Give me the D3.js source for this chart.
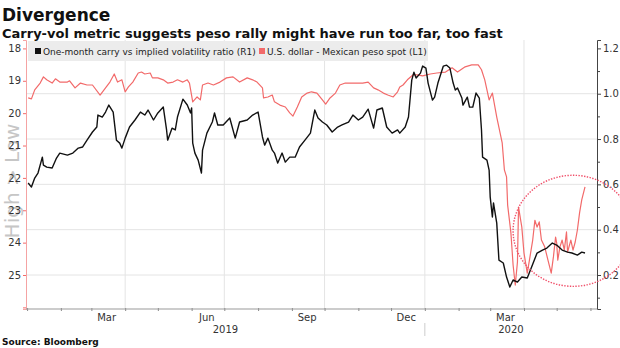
<!DOCTYPE html>
<html>
<head>
<meta charset="utf-8">
<script src="https://cdn.jsdelivr.net/npm/d3@7"></script>
<style>
  body { margin: 0; background: #fff; }
  svg { display: block; font-family: "DejaVu Sans", Verdana, sans-serif; }
</style>
</head>
<body>
<svg id="chart" width="620" height="348"></svg>
<script>
// one-month carry / implied vol ratio (right axis)
const carryRatio = [
  ["2019-01-02",0.606],["2019-01-05",0.588],["2019-01-08",0.628],["2019-01-11",0.650],["2019-01-15",0.720],
  ["2019-01-16",0.685],["2019-01-19",0.676],["2019-01-24",0.672],["2019-01-28",0.716],["2019-01-31",0.738],
  ["2019-02-07",0.729],["2019-02-12",0.738],["2019-02-17",0.760],["2019-02-21",0.765],["2019-02-25",0.795],
  ["2019-03-02",0.831],["2019-03-06",0.853],["2019-03-07",0.906],["2019-03-11",0.897],["2019-03-14",0.919],
  ["2019-03-17",0.950],["2019-03-21",0.919],["2019-03-24",0.795],["2019-03-27",0.782],["2019-03-29",0.760],
  ["2019-04-01",0.804],["2019-04-05",0.853],["2019-04-10",0.884],["2019-04-15",0.919],["2019-04-19",0.906],
  ["2019-04-22",0.928],["2019-04-27",0.884],["2019-05-01",0.915],["2019-05-06",0.941],["2019-05-09",0.840],
  ["2019-05-10",0.795],["2019-05-14",0.848],["2019-05-17",0.840],["2019-05-19",0.897],["2019-05-24",0.976],
  ["2019-05-28",0.950],["2019-05-31",0.915],["2019-06-01",0.937],["2019-06-02",0.782],["2019-06-04",0.738],
  ["2019-06-07",0.707],["2019-06-10",0.650],["2019-06-11",0.751],["2019-06-15",0.826],["2019-06-20",0.875],
  ["2019-06-22",0.915],["2019-06-25",0.862],["2019-06-30",0.862],["2019-07-06",0.893],["2019-07-11",0.804],
  ["2019-07-15",0.875],["2019-07-22",0.884],["2019-07-27",0.906],["2019-08-01",0.919],["2019-08-05",0.809],
  ["2019-08-07",0.773],["2019-08-10",0.804],["2019-08-14",0.751],["2019-08-16",0.738],["2019-08-19",0.694],
  ["2019-08-23",0.738],["2019-08-26",0.698],["2019-08-30",0.720],["2019-09-04",0.720],["2019-09-08",0.765],
  ["2019-09-13",0.795],["2019-09-18",0.826],["2019-09-22",0.928],["2019-09-25",0.893],["2019-09-29",0.875],
  ["2019-10-03",0.862],["2019-10-08",0.831],["2019-10-13",0.853],["2019-10-17",0.862],["2019-10-23",0.875],
  ["2019-10-27",0.906],["2019-11-01",0.884],["2019-11-05",0.897],["2019-11-10",0.932],["2019-11-15",0.848],
  ["2019-11-18",0.928],["2019-11-23",0.937],["2019-11-27",0.853],["2019-12-02",0.826],["2019-12-07",0.840],
  ["2019-12-09",0.826],["2019-12-14",0.853],["2019-12-17",0.897],["2019-12-20",1.060],["2019-12-22",1.095],
  ["2019-12-24",1.069],["2019-12-28",1.091],["2019-12-30",1.122],["2020-01-02",1.113],["2020-01-04",1.047],
  ["2020-01-08",0.972],["2020-01-10",0.985],["2020-01-13",1.047],["2020-01-18",1.122],["2020-01-21",1.126],
  ["2020-01-24",1.113],["2020-01-27",1.047],["2020-01-29",1.016],["2020-01-31",1.025],["2020-02-04",0.981],
  ["2020-02-05",0.950],["2020-02-09",0.985],["2020-02-11",0.941],["2020-02-14",0.941],["2020-02-17",1.003],
  ["2020-02-20",0.981],["2020-02-22",0.840],["2020-02-23",0.720],["2020-02-27",0.707],["2020-02-29",0.663],
  ["2020-03-01",0.544],["2020-03-03",0.456],["2020-03-04",0.518],["2020-03-07",0.429],["2020-03-09",0.266],
  ["2020-03-13",0.253],["2020-03-16",0.191],["2020-03-19",0.147],["2020-03-22",0.178],["2020-03-26",0.169],
  ["2020-03-30",0.191],["2020-04-04",0.187],["2020-04-08",0.235],["2020-04-13",0.297],["2020-04-18",0.310],
  ["2020-04-22",0.319],["2020-04-27",0.341],["2020-05-01",0.332],["2020-05-06",0.310],["2020-05-11",0.301],
  ["2020-05-15",0.297],["2020-05-20",0.288],["2020-05-24",0.301],["2020-05-27",0.297]
];

// USD/MXN spot (left axis, inverted)
const pesoSpot = [
  ["2019-01-02",19.53],["2019-01-05",19.56],["2019-01-08",19.28],["2019-01-13",19.07],["2019-01-16",18.88],
  ["2019-01-19",18.97],["2019-01-24",19.07],["2019-01-27",18.94],["2019-01-31",19.04],["2019-02-07",19.04],
  ["2019-02-09",19.00],["2019-02-14",19.22],["2019-02-19",19.07],["2019-02-25",19.13],["2019-03-02",19.13],
  ["2019-03-09",19.44],["2019-03-14",19.22],["2019-03-18",19.04],["2019-03-22",18.79],["2019-03-25",19.04],
  ["2019-03-29",18.97],["2019-04-01",19.34],["2019-04-04",19.19],["2019-04-08",19.04],["2019-04-13",18.76],
  ["2019-04-16",18.73],["2019-04-19",18.79],["2019-04-24",18.76],["2019-04-26",18.91],["2019-05-01",18.91],
  ["2019-05-06",18.97],["2019-05-10",19.07],["2019-05-15",19.04],["2019-05-19",18.97],["2019-05-24",19.04],
  ["2019-05-28",18.97],["2019-05-30",19.07],["2019-06-02",19.65],["2019-06-06",19.50],["2019-06-09",19.59],
  ["2019-06-11",19.13],["2019-06-16",19.07],["2019-06-21",19.13],["2019-06-27",19.04],["2019-07-03",18.91],
  ["2019-07-09",18.88],["2019-07-15",19.04],["2019-07-22",18.91],["2019-07-27",18.97],["2019-07-31",19.04],
  ["2019-08-05",19.22],["2019-08-06",19.53],["2019-08-10",19.50],["2019-08-14",19.44],["2019-08-16",19.65],
  ["2019-08-21",19.75],["2019-08-26",19.81],["2019-08-30",19.99],["2019-09-02",20.09],["2019-09-06",19.81],
  ["2019-09-10",19.50],["2019-09-15",19.38],["2019-09-19",19.34],["2019-09-24",19.38],["2019-09-29",19.59],
  ["2019-10-02",19.72],["2019-10-06",19.53],["2019-10-11",19.38],["2019-10-15",19.13],["2019-10-20",19.07],
  ["2019-10-24",19.07],["2019-10-31",19.07],["2019-11-05",19.07],["2019-11-10",19.04],["2019-11-15",19.22],
  ["2019-11-19",19.28],["2019-11-24",19.38],["2019-11-28",19.44],["2019-12-03",19.50],["2019-12-07",19.34],
  ["2019-12-09",19.19],["2019-12-12",19.13],["2019-12-16",18.97],["2019-12-21",18.82],["2019-12-25",18.82],
  ["2019-12-30",18.85],["2020-01-06",18.79],["2020-01-12",18.76],["2020-01-20",18.73],["2020-01-26",18.60],
  ["2020-01-31",18.73],["2020-02-07",18.57],["2020-02-13",18.51],["2020-02-19",18.51],["2020-02-22",18.66],
  ["2020-02-25",18.97],["2020-02-29",19.59],["2020-03-03",19.38],["2020-03-07",20.12],["2020-03-12",20.92],
  ["2020-03-14",21.75],["2020-03-16",21.97],["2020-03-17",22.84],["2020-03-20",23.70],["2020-03-22",24.69],
  ["2020-03-24",25.31],["2020-03-26",24.60],["2020-03-27",22.90],["2020-03-30",23.52],["2020-04-01",24.32],
  ["2020-04-04",24.94],["2020-04-06",24.54],["2020-04-09",23.92],["2020-04-11",23.31],["2020-04-13",23.52],
  ["2020-04-15",23.36],["2020-04-17",23.92],["2020-04-20",24.13],["2020-04-23",24.54],["2020-04-26",24.94],
  ["2020-04-28",24.44],["2020-04-30",23.83],["2020-05-01",24.01],["2020-05-02",24.54],["2020-05-04",24.13],
  ["2020-05-06",23.92],["2020-05-08",24.23],["2020-05-10",23.67],["2020-05-11",24.29],["2020-05-14",23.92],
  ["2020-05-16",24.23],["2020-05-18",23.98],["2020-05-20",23.61],["2020-05-22",23.08],["2020-05-24",22.68],
  ["2020-05-27",22.28]
];

const leftTicks = [18, 19, 20, 21, 22, 23, 24, 25, 26];
const rightTicks = [0.2, 0.4, 0.6, 0.8, 1.0, 1.2];
const rightMinor = [0.1, 0.3, 0.5, 0.7, 0.9, 1.1];
const monthLabels = ["2019-03-15", "2019-06-15", "2019-09-15", "2019-12-15", "2020-03-15"];
const quarterLines = ["2019-04-01", "2019-07-01", "2019-10-01", "2020-01-01", "2020-04-01"];
const years = [2019, 2020];
const legendItems = [
  { label: "One-month carry vs implied volatility ratio (R1)", color: "#111" },
  { label: "U.S. dollar - Mexican peso spot (L1)", color: "#f26a6a" }
];
// dotted ring around the recent gap
const ring = { left: "2020-03-22", center: "2020-05-16", top: 0.64, bottom: 0.15 };

const parse = d3.timeParse("%Y-%m-%d");
const svg = d3.select("#chart");

const plotTop = 40, plotBottom = 309;
const x = d3.scaleTime()
  .domain([new Date(2018, 11, 31), new Date(2020, 5, 7)])
  .range([26, 597]);
const yL = d3.scaleLinear().domain([26.05, 17.74]).range([plotBottom, plotTop]);
const yR = d3.scaleLinear().domain([0.05, 1.237]).range([plotBottom, plotTop]);
const [x0, x1] = x.range();

// gridlines
svg.append("g").selectAll("line").data(rightTicks.slice(0, 5)).join("line")
  .attr("x1", x0).attr("x2", x1)
  .attr("y1", d => yR(d)).attr("y2", d => yR(d))
  .attr("stroke", "#e4e4e4").attr("stroke-width", 1);
svg.append("g").selectAll("line").data(quarterLines).join("line")
  .attr("x1", d => x(parse(d))).attr("x2", d => x(parse(d)))
  .attr("y1", plotTop).attr("y2", plotBottom)
  .attr("stroke", "#e4e4e4").attr("stroke-width", 1);

// "High > Low" watermark behind the left axis
svg.append("text")
  .attr("transform", "translate(19,181) rotate(-90)")
  .attr("text-anchor", "middle")
  .attr("font-size", 20).attr("fill", "#c6c6c6")
  .text("High > Low");

// left axis (peso spot)
const axL = svg.append("g").attr("transform", `translate(${x0},0)`)
  .call(d3.axisLeft(yL).tickValues(leftTicks).tickSize(3).tickPadding(2)
    .tickFormat(d => d === 26 ? "" : d));
axL.select(".domain").attr("stroke", "#f5a3a3");
axL.selectAll(".tick line").attr("stroke", "#f26a6a");
axL.selectAll(".tick text").attr("fill", "#333").attr("font-size", 10)
  .attr("font-family", "DejaVu Sans");

// right axis (ratio)
const axR = svg.append("g").attr("transform", `translate(${x1},0)`)
  .call(d3.axisRight(yR).tickValues(rightTicks).tickSize(4).tickPadding(2)
    .tickFormat(d3.format(".1f")));
axR.select(".domain").attr("stroke", "#444");
axR.selectAll(".tick line").attr("stroke", "#444");
axR.selectAll(".tick text").attr("fill", "#333").attr("font-size", 10)
  .attr("font-family", "DejaVu Sans");
svg.append("g").attr("transform", `translate(${x1},0)`)
  .call(d3.axisRight(yR).tickValues(rightMinor).tickSize(3).tickFormat(""))
  .call(g => g.select(".domain").remove())
  .selectAll(".tick line").attr("stroke", "#444");

// bottom axis: month ticks, quarter month labels, year labels
const axB = svg.append("g").attr("transform", `translate(0,${plotBottom - 1})`)
  .call(d3.axisBottom(x)
    .tickValues(d3.timeMonth.range(new Date(2019, 0, 1), new Date(2020, 5, 2)))
    .tickSize(3).tickFormat(""));
axB.select(".domain").remove();
axB.selectAll(".tick line").attr("stroke", "#888");
svg.append("line").attr("x1", x0).attr("x2", x1).attr("y1", plotBottom).attr("y2", plotBottom)
  .attr("stroke", "#999");

svg.append("g").selectAll("text").data(monthLabels).join("text")
  .attr("x", d => x(parse(d))).attr("y", 321)
  .attr("text-anchor", "middle").attr("font-size", 10).attr("fill", "#333")
  .text(d => d3.timeFormat("%b")(parse(d)));

const yearEdges = [x.domain()[0], new Date(2020, 0, 1), x.domain()[1]];
svg.append("g").selectAll("text").data(years).join("text")
  .attr("x", (d, i) => (x(yearEdges[i]) + x(yearEdges[i + 1])) / 2).attr("y", 333)
  .attr("text-anchor", "middle").attr("font-size", 10).attr("fill", "#333")
  .text(d => d);
svg.append("line")
  .attr("x1", x(yearEdges[1])).attr("x2", x(yearEdges[1]))
  .attr("y1", 323).attr("y2", 336)
  .attr("stroke", "#ccc");

// lines
const spotLine = d3.line().x(d => x(parse(d[0]))).y(d => yL(d[1]));
const ratioLine = d3.line().x(d => x(parse(d[0]))).y(d => yR(d[1]));

svg.append("path").datum(pesoSpot)
  .attr("d", spotLine).attr("fill", "none")
  .attr("stroke", legendItems[1].color).attr("stroke-width", 1.2)
  .attr("stroke-linejoin", "round");
svg.append("path").datum(carryRatio)
  .attr("d", ratioLine).attr("fill", "none")
  .attr("stroke", legendItems[0].color).attr("stroke-width", 1.4)
  .attr("stroke-linejoin", "round");

// dotted ring
const cx = x(parse(ring.center));
const cy = (yR(ring.top) + yR(ring.bottom)) / 2;
svg.append("ellipse")
  .attr("cx", cx).attr("cy", cy)
  .attr("rx", cx - x(parse(ring.left)))
  .attr("ry", (yR(ring.bottom) - yR(ring.top)) / 2)
  .attr("fill", "none").attr("stroke", "#f0506a")
  .attr("stroke-width", 1.4).attr("stroke-dasharray", "1.4,1.4");

// legend
const legend = svg.append("g");
legend.append("rect").attr("x", 28).attr("y", 41).attr("width", 400).attr("height", 20)
  .attr("fill", "#ececec");
const legX = [35, 259];
legendItems.forEach((d, i) => {
  legend.append("rect").attr("x", legX[i]).attr("y", 48).attr("width", 6).attr("height", 6)
    .attr("fill", d.color);
  legend.append("text").attr("x", legX[i] + 8).attr("y", 55)
    .attr("font-size", 9).attr("fill", "#222").text(d.label);
});

// titles
svg.append("text").attr("x", 2).attr("y", 21)
  .attr("font-size", 17).attr("font-weight", "bold").attr("fill", "#111")
  .text("Divergence");
svg.append("text").attr("x", 2).attr("y", 38)
  .attr("font-size", 13).attr("font-weight", "bold").attr("fill", "#111")
  .text("Carry-vol metric suggests peso rally might have run too far, too fast");
svg.append("text").attr("x", 2).attr("y", 345)
  .attr("font-size", 9).attr("font-weight", "bold").attr("fill", "#111")
  .text("Source: Bloomberg");
</script>
</body>
</html>
